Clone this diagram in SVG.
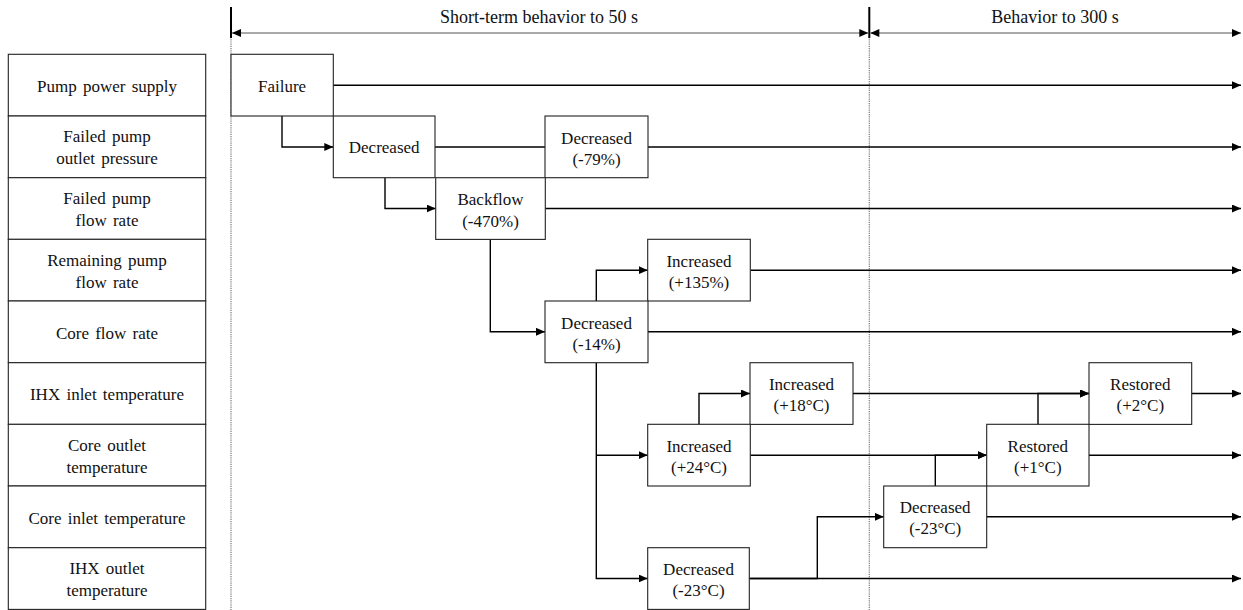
<svg xmlns="http://www.w3.org/2000/svg" width="1243" height="610" viewBox="0 0 1243 610">
<style>
  .lbl{font-family:"Liberation Serif","Times New Roman",serif;font-size:17px;fill:#111;text-anchor:middle;word-spacing:2px}
  .hdr{font-family:"Liberation Serif","Times New Roman",serif;font-size:18px;fill:#111;text-anchor:middle}
  .box{fill:#fff;stroke:#222;stroke-width:1.1}
  .conn{fill:none;stroke:#000;stroke-width:1.4}
  .arr{marker-end:url(#ah)}
  .dot{stroke:#777;stroke-width:1.2;stroke-dasharray:1.2 1}
  .tick{stroke:#000;stroke-width:2}
  .harr{stroke:#555;stroke-width:1;marker-start:url(#hs);marker-end:url(#he)}
</style>
<defs>
  <marker id="ah" markerUnits="userSpaceOnUse" markerWidth="10" markerHeight="10" refX="9" refY="4" orient="auto">
    <path d="M0,0 L9,4 L0,8 Z" fill="#000"/>
  </marker>
  <marker id="he" markerUnits="userSpaceOnUse" markerWidth="10" markerHeight="10" refX="9" refY="4" orient="auto">
    <path d="M0,0 L9,4 L0,8 Z" fill="#000"/>
  </marker>
  <marker id="hs" markerUnits="userSpaceOnUse" markerWidth="10" markerHeight="10" refX="0" refY="4" orient="auto">
    <path d="M9,0 L0,4 L9,8 Z" fill="#000"/>
  </marker>
</defs>

<g id="header">
  <line class="dot" x1="231" y1="37" x2="231" y2="610"/>
  <line class="dot" x1="869.3" y1="37" x2="869.3" y2="610"/>
  <line class="tick" x1="231" y1="7" x2="231" y2="38"/>
  <line class="tick" x1="869.3" y1="7" x2="869.3" y2="38"/>
  <line class="harr" x1="232" y1="33" x2="868.3" y2="33"/>
  <line class="harr" x1="870.3" y1="33" x2="1241" y2="33"/>
  <text class="hdr" x="539" y="23">Short-term behavior to 50 s</text>
  <text class="hdr" x="1055" y="23">Behavior to 300 s</text>
</g>

<g id="rows">
  <g id="row-pump-power"><rect class="box" x="8.3" y="54.3" width="197.4" height="61.7"/><text class="lbl" x="107" y="92">Pump power supply</text></g>
  <g id="row-outlet-pressure"><rect class="box" x="8.3" y="116" width="197.4" height="61.7"/><text class="lbl" x="107" y="142">Failed pump</text><text class="lbl" x="107" y="164">outlet pressure</text></g>
  <g id="row-failed-flow"><rect class="box" x="8.3" y="177.7" width="197.4" height="61.7"/><text class="lbl" x="107" y="204">Failed pump</text><text class="lbl" x="107" y="226">flow rate</text></g>
  <g id="row-remaining-flow"><rect class="box" x="8.3" y="239.3" width="197.4" height="61.7"/><text class="lbl" x="107" y="266">Remaining pump</text><text class="lbl" x="107" y="288">flow rate</text></g>
  <g id="row-core-flow"><rect class="box" x="8.3" y="301" width="197.4" height="61.7"/><text class="lbl" x="107" y="338.5">Core flow rate</text></g>
  <g id="row-ihx-inlet"><rect class="box" x="8.3" y="362.7" width="197.4" height="61.7"/><text class="lbl" x="107" y="400">IHX inlet temperature</text></g>
  <g id="row-core-outlet"><rect class="box" x="8.3" y="424.3" width="197.4" height="61.7"/><text class="lbl" x="107" y="451">Core outlet</text><text class="lbl" x="107" y="473">temperature</text></g>
  <g id="row-core-inlet"><rect class="box" x="8.3" y="486" width="197.4" height="61.7"/><text class="lbl" x="107" y="523.5">Core inlet temperature</text></g>
  <g id="row-ihx-outlet"><rect class="box" x="8.3" y="547.7" width="197.4" height="61.7"/><text class="lbl" x="107" y="574">IHX outlet</text><text class="lbl" x="107" y="596">temperature</text></g>
</g>

<g id="connectors">
  <path class="conn arr" d="M333,85.2 H1241"/>
  <path class="conn arr" d="M282,116 V147 H333.3"/>
  <path class="conn" d="M435,147 H545"/>
  <path class="conn arr" d="M648,147 H1241"/>
  <path class="conn arr" d="M385,177.7 V208.5 H435.7"/>
  <path class="conn arr" d="M545.3,208.5 H1241"/>
  <path class="conn arr" d="M490.3,239.3 V331.8 H545"/>
  <path class="conn arr" d="M596.3,301 V270.2 H647.7"/>
  <path class="conn arr" d="M750.3,270.2 H1241"/>
  <path class="conn arr" d="M648,331.8 H1241"/>
  <path class="conn arr" d="M596.3,362.7 V578.5 H647.7"/>
  <path class="conn arr" d="M596.3,455.2 H647.7"/>
  <path class="conn arr" d="M699,424.3 V393.5 H750"/>
  <path class="conn arr" d="M853,393.5 H1089"/>
  <path class="conn arr" d="M1038,486 V393.5 H1089"/>
  <path class="conn arr" d="M1191.7,393.5 H1241"/>
  <path class="conn arr" d="M750.3,455.2 H986.7"/>
  <path class="conn arr" d="M935.3,486 V455.2 H986.7"/>
  <path class="conn arr" d="M1089,455.2 H1241"/>
  <path class="conn arr" d="M749.3,578.5 H1241"/>
  <path class="conn arr" d="M749.3,578.5 H817.3 V516.8 H883.7"/>
  <path class="conn arr" d="M986.7,516.8 H1241"/>
</g>

<g id="n-failure"><rect class="box" x="231" y="54.3" width="102.3" height="61.7"/><text class="lbl" x="282.1" y="92">Failure</text></g>
<g id="n-dec-pressure"><rect class="box" x="333.3" y="116" width="101.7" height="61.7"/><text class="lbl" x="384.2" y="153">Decreased</text></g>
<g id="n-dec79"><rect class="box" x="545" y="116" width="103" height="61.7"/><text class="lbl" x="596.5" y="143.5">Decreased</text><text class="lbl" x="596.5" y="164.5">(-79%)</text></g>
<g id="n-backflow"><rect class="box" x="435.7" y="177.7" width="109.6" height="61.7"/><text class="lbl" x="490.5" y="205">Backflow</text><text class="lbl" x="490.5" y="226.5">(-470%)</text></g>
<g id="n-inc135"><rect class="box" x="647.7" y="239.3" width="102.6" height="61.7"/><text class="lbl" x="699" y="267">Increased</text><text class="lbl" x="699" y="288">(+135%)</text></g>
<g id="n-dec14"><rect class="box" x="545" y="301" width="103" height="61.7"/><text class="lbl" x="596.5" y="328.5">Decreased</text><text class="lbl" x="596.5" y="349.5">(-14%)</text></g>
<g id="n-inc18"><rect class="box" x="750" y="362.7" width="103" height="61.7"/><text class="lbl" x="801.5" y="390">Increased</text><text class="lbl" x="801.5" y="411">(+18°C)</text></g>
<g id="n-inc24"><rect class="box" x="647.7" y="424.3" width="102.6" height="61.7"/><text class="lbl" x="699" y="452">Increased</text><text class="lbl" x="699" y="473">(+24°C)</text></g>
<g id="n-dec23-ihx"><rect class="box" x="647.7" y="547.7" width="101.6" height="61.7"/><text class="lbl" x="698.5" y="575">Decreased</text><text class="lbl" x="698.5" y="596">(-23°C)</text></g>
<g id="n-dec23-core"><rect class="box" x="883.7" y="486" width="103" height="61.7"/><text class="lbl" x="935.2" y="513">Decreased</text><text class="lbl" x="935.2" y="534">(-23°C)</text></g>
<g id="n-res1"><rect class="box" x="986.7" y="424.3" width="102.3" height="61.7"/><text class="lbl" x="1037.8" y="452">Restored</text><text class="lbl" x="1037.8" y="473">(+1°C)</text></g>
<g id="n-res2"><rect class="box" x="1089" y="362.7" width="102.7" height="61.7"/><text class="lbl" x="1140.3" y="390">Restored</text><text class="lbl" x="1140.3" y="411">(+2°C)</text></g>
</svg>
